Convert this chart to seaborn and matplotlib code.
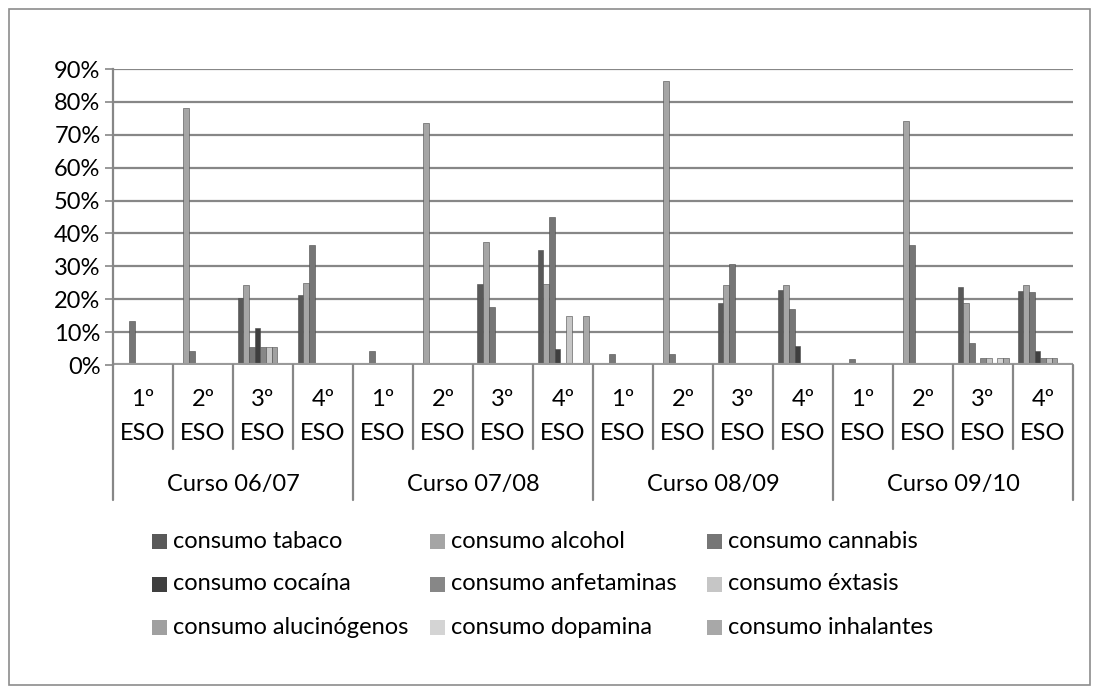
import matplotlib
matplotlib.use("Agg")
import matplotlib.pyplot as plt
import matplotlib.transforms as mtransforms
from matplotlib.patches import Rectangle
from matplotlib.lines import Line2D
import seaborn as sns
import pandas as pd

# ---- data -------------------------------------------------------------
cursos = ["Curso 06/07", "Curso 07/08", "Curso 08/09", "Curso 09/10"]
niveles = ["1º\nESO", "2º\nESO", "3º\nESO", "4º\nESO"]
series = ["consumo tabaco", "consumo alcohol", "consumo cannabis",
          "consumo cocaína", "consumo anfetaminas", "consumo éxtasis",
          "consumo alucinógenos", "consumo dopamina", "consumo inhalantes"]

tabaco       = [0, 0, 20.5, 21.2,  0, 0, 24.5, 35.0,  0, 0, 18.8, 22.8,  0, 0, 23.8, 22.5]
alcohol      = [0, 78.0, 24.4, 25.0,  0, 73.6, 37.5, 24.5,  0, 86.5, 24.4, 24.4,  0, 74.3, 18.9, 24.2]
cannabis     = [13.3, 4.2, 5.6, 36.4,  4.2, 0, 17.5, 45.0,  3.4, 3.4, 30.8, 17.1,  1.9, 36.4, 6.6, 22.1]
cocaina      = [0, 0, 11.1, 0,  0, 0, 0, 5.0,  0, 0, 0, 5.7,  0, 0, 0, 4.2]
anfetaminas  = [0, 0, 5.6, 0,  0, 0, 0, 0,  0, 0, 0, 0,  0, 0, 2.2, 2.2]
extasis      = [0, 0, 5.6, 0,  0, 0, 0, 15.0,  0, 0, 0, 0,  0, 0, 2.2, 2.2]
alucinogenos = [0, 0, 5.6, 0,  0, 0, 0, 0,  0, 0, 0, 0,  0, 0, 0, 2.2]
dopamina     = [0, 0, 0, 0,  0, 0, 0, 0,  0, 0, 0, 0,  0, 0, 2.2, 0]
inhalantes   = [0, 0, 0, 0,  0, 0, 0, 15.0,  0, 0, 0, 0,  0, 0, 2.2, 0]

valores = [tabaco, alcohol, cannabis, cocaina, anfetaminas, extasis,
           alucinogenos, dopamina, inhalantes]
colores = ["#595959", "#a5a5a5", "#767676", "#3f3f3f", "#878787",
           "#c6c6c6", "#a0a0a0", "#d4d4d4", "#a8a8a8"]

# ---- long-form table ---------------------------------------------------
grupos = [f"{c} {n}" for c in cursos for n in niveles]
rows = []
for s, vals in zip(series, valores):
    for g, v in zip(grupos, vals):
        rows.append({"grupo": g, "serie": s, "valor": v})
df = pd.DataFrame(rows)

# ---- figure ------------------------------------------------------------
sns.set_theme(style="white")
FONT = ["Lato", "DejaVu Sans"]
plt.rcParams["font.family"] = FONT
FS = 17

W, H = 1099, 693
fig = plt.figure(figsize=(W / 100, H / 100), dpi=100)
fig.patch.set_facecolor("white")

def fx(x):
    return x / W

def fy(y):
    return 1 - y / H

ax = fig.add_axes([fx(113), fy(365), fx(1073) - fx(113), fy(69) - fy(365)])
sns.barplot(data=df, x="grupo", y="valor", hue="serie", order=grupos,
            hue_order=series, palette=colores, width=0.85, dodge=True,
            legend=False, ax=ax, edgecolor="#4a4a4a", linewidth=0.4,
            saturation=1)

GRID = "#878787"
ax.set_ylim(0, 90)
ax.set_xlim(-0.5, len(grupos) - 0.5)
ax.set_yticks(range(0, 91, 10))
ax.set_yticklabels([f"{t}%" for t in range(0, 91, 10)], fontsize=FS)
ax.yaxis.grid(True, color=GRID, linewidth=1.6)
ax.set_axisbelow(True)
ax.tick_params(axis="y", length=6, width=1.2, color=GRID, pad=3, left=True,
               labelcolor="black")
ax.set_xticks([])
ax.set_xlabel("")
ax.set_ylabel("")
for side in ["top", "right", "bottom"]:
    ax.spines[side].set_visible(False)
ax.spines["left"].set_color(GRID)
ax.spines["left"].set_linewidth(1.6)
ax.axhline(0, color="#9a9a9a", linewidth=3, zorder=1)

# ---- hierarchical category axis -----------------------------------------
tr = mtransforms.blended_transform_factory(ax.transData, fig.transFigure)
n = len(grupos)
for k in range(n + 1):
    xb = k - 0.5
    bottom = 500 if k % 4 == 0 else 449
    fig.add_artist(Line2D([xb, xb], [fy(365), fy(bottom)], transform=tr,
                          color=GRID, linewidth=1.6))
for i, g in enumerate(grupos):
    niv = niveles[i % 4].split("\n")
    ax.text(i, fy(400), niv[0], transform=tr, ha="center", va="center",
            fontsize=FS, color="black")
    ax.text(i, fy(433), niv[1], transform=tr, ha="center", va="center",
            fontsize=FS, color="black")
for j, c in enumerate(cursos):
    ax.text(j * 4 + 1.5, fy(484), c, transform=tr, ha="center", va="center",
            fontsize=FS, color="black")

# ---- legend (row-wise, 3 columns) ---------------------------------------
col_x = [152, 430, 707]
row_y = [541, 584, 627]
for idx, (s, col) in enumerate(zip(series, colores)):
    r, c = divmod(idx, 3)
    x0, yc = col_x[c], row_y[r]
    fig.add_artist(Rectangle((fx(x0), fy(yc + 7.5)), fx(15), 15 / H,
                             transform=fig.transFigure, facecolor=col,
                             edgecolor="none"))
    fig.text(fx(x0 + 21), fy(yc), s, ha="left", va="center",
             fontsize=FS, color="black")

# ---- chart border --------------------------------------------------------
fig.add_artist(Rectangle((fx(9), fy(685)), fx(1090) - fx(9), fy(9) - fy(685),
                         transform=fig.transFigure, facecolor="none",
                         edgecolor="#8c8c8c", linewidth=1.2))

fig.savefig("out.png", dpi=100)
